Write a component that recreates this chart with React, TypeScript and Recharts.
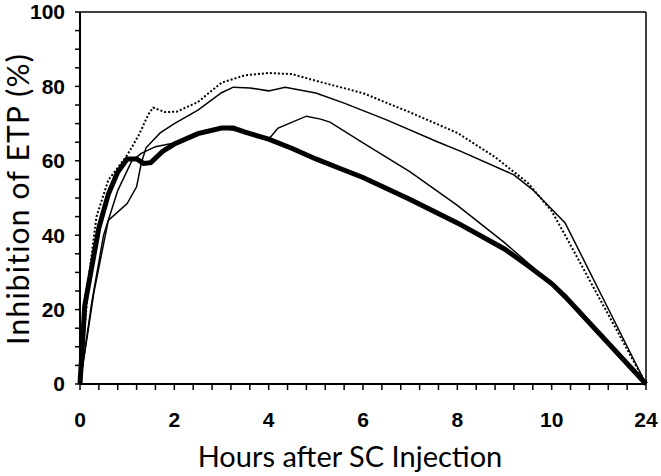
import { LineChart, Line, XAxis, YAxis, ReferenceLine } from 'recharts';

// hours after injection; x axis is broken after 10 h (10 -> 24 squeezed into 2 units)
const xTicks = [0, 0.4, 0.8, 1.2, 1.6, 2, 2.4, 2.8, 3.2, 3.6, 4, 4.4, 4.8, 5.2, 5.6, 6, 6.4, 6.8, 7.2, 7.6, 8, 8.4, 8.8, 9.2, 9.6, 10, 10.4, 10.8, 11.2, 11.6, 12];
const xMajorLabels: Record<string, string> = { '0': '0', '2': '2', '4': '4', '6': '6', '8': '8', '10': '10', '12': '24' };
const yTicks = [0, 5, 10, 15, 20, 25, 30, 35, 40, 45, 50, 55, 60, 65, 70, 75, 80, 85, 90, 95, 100];
const yMajor = [0, 20, 40, 60, 80, 100];

const thickHours = [0, 0.1, 0.3, 0.4, 0.6, 0.8, 1.0, 1.2, 1.35, 1.5, 1.75, 2, 2.5, 3, 3.25, 3.5, 4, 4.5, 5, 5.5, 6, 7, 8, 9, 9.5, 10, 12, 24];
const thickValues = [0, 21, 35, 42, 51, 57, 60.5, 60.5, 59.3, 59.5, 62.5, 64.5, 67.3, 68.8, 68.8, 67.7, 65.8, 63.3, 60.5, 58, 55.5, 49.6, 43.3, 36.3, 31.8, 27, 23.5, 0];

const upperHours = [0, 0.3, 0.6, 1.0, 1.2, 1.3, 1.4, 1.7, 2, 2.5, 3, 3.25, 3.6, 4, 4.35, 5, 5.6, 6.5, 7.6, 8.1, 9.2, 9.6, 12, 24];
const upperValues = [0, 25, 44, 48.5, 53, 59.4, 63.5, 67.5, 70, 73.6, 78.3, 79.8, 79.6, 78.8, 79.8, 78.2, 75.5, 71, 65, 62.4, 56.2, 52.2, 43.3, 0];

const branchHours = [0, 0.25, 0.5, 0.8, 1.1, 1.3, 1.6, 2, 2.5, 3, 3.5, 4, 4.2, 4.8, 5.1, 5.3, 6, 7, 8, 9, 9.5, 10, 12, 24];
const branchValues = [0, 22, 40, 52, 60, 62, 63.8, 64.8, 67.3, 68.8, 67.7, 65.8, 68.8, 72, 71.2, 70.4, 64.8, 57, 48, 38, 32.5, 27, 23.5, 0];

const dottedHours = [0, 0.2, 0.35, 0.6, 1.0, 1.25, 1.45, 1.55, 1.8, 2.05, 2.5, 3, 3.5, 4, 4.5, 5, 6, 7, 8, 8.8, 9.5, 10, 12, 24];
const dottedValues = [0, 30, 45, 54.8, 61.5, 67, 72.5, 74.3, 73.1, 73.2, 75.8, 81, 83, 83.6, 83.3, 81.5, 78.2, 73, 67.5, 61, 54, 46.5, 40, 0];

// axis break: hours beyond 10 are compressed so that 24 h lands at 12
const toAxis = (h: number) => (h <= 10 ? h : 10 + (h - 10) / 7);
const build = (hours: number[], values: number[]) => hours.map((h, i) => ({ x: toAxis(h), y: values[i] }));

const tickFont = { fontFamily: '"Liberation Sans", Arial, sans-serif', fontWeight: 700, fontSize: 21, fill: '#000' };

export default function App() {
  return (
    <div style={{ position: 'absolute', left: 0, top: 0, width: 661, height: 476, background: '#fff' }}>
      <LineChart width={661} height={476} margin={{ top: 12, right: 15, bottom: 0, left: 0 }}>
        <XAxis
          type="number"
          dataKey="x"
          domain={[0, 12]}
          ticks={xTicks}
          interval={0}
          tickFormatter={(v: number) => xMajorLabels[String(v)] ?? ''}
          tick={tickFont}
          tickSize={6}
          tickMargin={22}
          height={92}
          axisLine={{ stroke: '#000', strokeWidth: 2 }}
          tickLine={{ stroke: '#000', strokeWidth: 1.5 }}
        />
        <YAxis
          type="number"
          domain={[0, 100]}
          ticks={yTicks}
          interval={0}
          tickFormatter={(v: number) => (yMajor.includes(v) ? String(v) : '')}
          tick={tickFont}
          tickSize={5}
          tickMargin={10}
          width={80}
          axisLine={{ stroke: '#000', strokeWidth: 2 }}
          tickLine={{ stroke: '#000', strokeWidth: 1.5 }}
        />
        <ReferenceLine y={100} stroke="#000" strokeWidth={1.5} />
        <ReferenceLine x={12} stroke="#000" strokeWidth={1.5} />
        <Line data={build(branchHours, branchValues)} dataKey="y" type="linear" stroke="#000" strokeWidth={1.5} dot={false} isAnimationActive={false} />
        <Line data={build(upperHours, upperValues)} dataKey="y" type="linear" stroke="#000" strokeWidth={1.5} dot={false} isAnimationActive={false} />
        <Line data={build(dottedHours, dottedValues)} dataKey="y" type="linear" stroke="#000" strokeWidth={2} strokeDasharray="2 2" dot={false} isAnimationActive={false} />
        <Line data={build(thickHours, thickValues)} dataKey="y" type="linear" stroke="#000" strokeWidth={5} dot={false} isAnimationActive={false} />
      </LineChart>
      <svg width={661} height={476} style={{ position: 'absolute', left: 0, top: 0, pointerEvents: 'none' }}>
        <text x={350} y={467} textAnchor="middle" fontFamily="Lato, sans-serif" fontSize={29} fill="#000">
          Hours after SC Injection
        </text>
        <text x={29} y={199} transform="rotate(-90 29 199)" textAnchor="middle" fontFamily="Lato, sans-serif" fontSize={30} letterSpacing={1.2} fill="#000">
          Inhibition of ETP (%)
        </text>
      </svg>
    </div>
  );
}
